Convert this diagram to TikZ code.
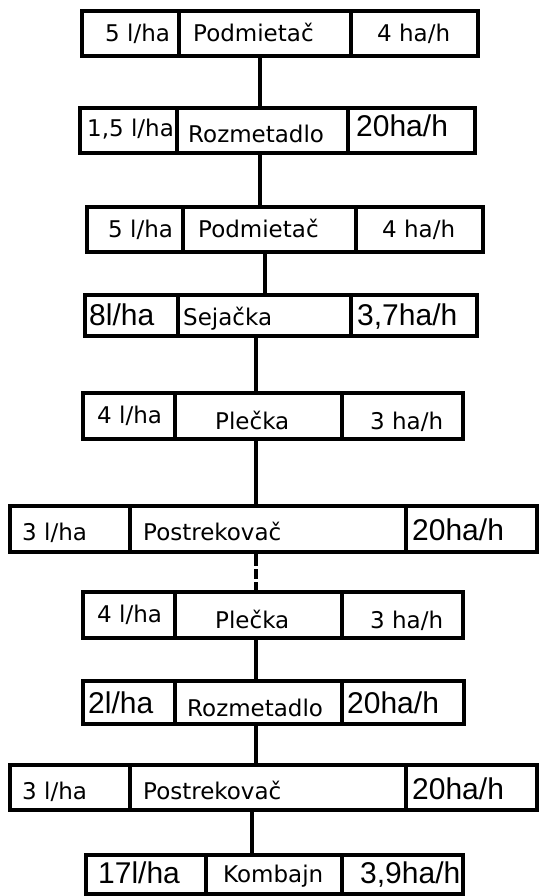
\documentclass[tikz,border=0pt]{standalone}
\usepackage{fontspec}
\newfontfamily\smallfnt{DejaVu Sans}
\newfontfamily\bigfnt{Liberation Sans}
\tikzset{
  frame/.style={draw, line width=3.5pt, rectangle, inner sep=0pt, outer sep=0pt, fill=white},
  divider/.style={line width=3.5pt},
  link/.style={line width=3.5pt},
  sm/.style={anchor=base west, inner sep=0pt, font=\smallfnt\fontsize{23}{23}\selectfont},
  lg/.style={anchor=base west, inner sep=0pt, font=\bigfnt\fontsize{30}{30}\selectfont},
}
% \machrow{name}{left}{top}{right}{bottom}{div1}{div2}
\newcommand\machrow[7]{%
  \node[frame, minimum width=#4-#2, minimum height=#5-#3] (#1) at ({(#2+#4)/2},{(#3+#5)/2}) {};
  \draw[divider] (#6,#3) -- (#6,#5);
  \draw[divider] (#7,#3) -- (#7,#5);
}
\begin{document}
\begin{tikzpicture}[x=1pt,y=-1pt]
\useasboundingbox (0,0) rectangle (541,896);

% connector x positions
\coordinate (k1) at (260,0);
\coordinate (k2) at (260,0);
\coordinate (k3) at (265,0);
\coordinate (k4) at (256,0);
\coordinate (k5) at (256,0);
\coordinate (k6) at (256,0);
\coordinate (k7) at (256,0);
\coordinate (k8) at (256,0);
\coordinate (k9) at (252,0);

\machrow{r1}{82}{11}{478}{56}{179}{351}
\machrow{r2}{80}{108}{475}{153}{177}{348}
\machrow{r3}{87}{207}{483}{252}{183}{356}
\machrow{r4}{85}{295}{477}{336}{178}{351}
\machrow{r5}{83}{393}{463}{439}{175}{342}
\machrow{r6}{10}{506}{537}{552}{130}{406}
\machrow{r7}{83}{592}{463}{638}{175}{342}
\machrow{r8}{83}{681}{464}{724}{175}{342}
\machrow{r9}{10}{765}{537}{810}{130}{406}
\machrow{r10}{86}{855}{463}{894}{206}{342}

% connectors
\draw[link] (r1.south -| k1) -- (r2.north -| k1);
\draw[link] (r2.south -| k2) -- (r3.north -| k2);
\draw[link] (r3.south -| k3) -- (r4.north -| k3);
\draw[link] (r4.south -| k4) -- (r5.north -| k4);
\draw[link] (r5.south -| k5) -- (r6.north -| k5);
\draw[link, dash pattern=on 14pt off 3pt on 10pt off 3pt] (r6.south -| k6) -- (r7.north -| k6);
\draw[link] (r7.south -| k7) -- (r8.north -| k7);
\draw[link] (r8.south -| k8) -- (r9.north -| k8);
\draw[link] (r9.south -| k9) -- (r10.north -| k9);

% row 1
\node[sm] (t1a) at (105,42) {5 l/ha};
\node[sm] (t1b) at (193,42) {Podmietač};
\node[sm] (t1c) at (377,42) {4 ha/h};
% row 2
\node[sm] (t2a) at (87,137) {1,5 l/ha};
\node[sm] (t2b) at (188,143) {Rozmetadlo};
\node[lg] (t2c) at (356,137) {20ha/h};
% row 3
\node[sm] (t3a) at (108,237) {5 l/ha};
\node[sm] (t3b) at (198,237) {Podmietač};
\node[sm] (t3c) at (382,237) {4 ha/h};
% row 4
\node[lg] (t4a) at (89,325) {8l/ha};
\node[sm] (t4b) at (183,325) {Sejačka};
\node[lg] (t4c) at (357,325) {3,7ha/h};
% row 5
\node[sm] (t5a) at (97,423) {4 l/ha};
\node[sm] (t5b) at (215,429) {Plečka};
\node[sm] (t5c) at (370,429) {3 ha/h};
% row 6
\node[sm] (t6a) at (22,540) {3 l/ha};
\node[sm] (t6b) at (143,540) {Postrekovač};
\node[lg] (t6c) at (412,540) {20ha/h};
% row 7
\node[sm] (t7a) at (97,622) {4 l/ha};
\node[sm] (t7b) at (215,628) {Plečka};
\node[sm] (t7c) at (370,628) {3 ha/h};
% row 8
\node[lg] (t8a) at (88,713) {2l/ha};
\node[sm] (t8b) at (187,716) {Rozmetadlo};
\node[lg] (t8c) at (347,713) {20ha/h};
% row 9
\node[sm] (t9a) at (22,799) {3 l/ha};
\node[sm] (t9b) at (143,799) {Postrekovač};
\node[lg] (t9c) at (412,799) {20ha/h};
% row 10
\node[lg] (t10a) at (98,883) {17l/ha};
\node[sm] (t10b) at (223,882) {Kombajn};
\node[lg] (t10c) at (360,883) {3,9ha/h};
\end{tikzpicture}
\end{document}
